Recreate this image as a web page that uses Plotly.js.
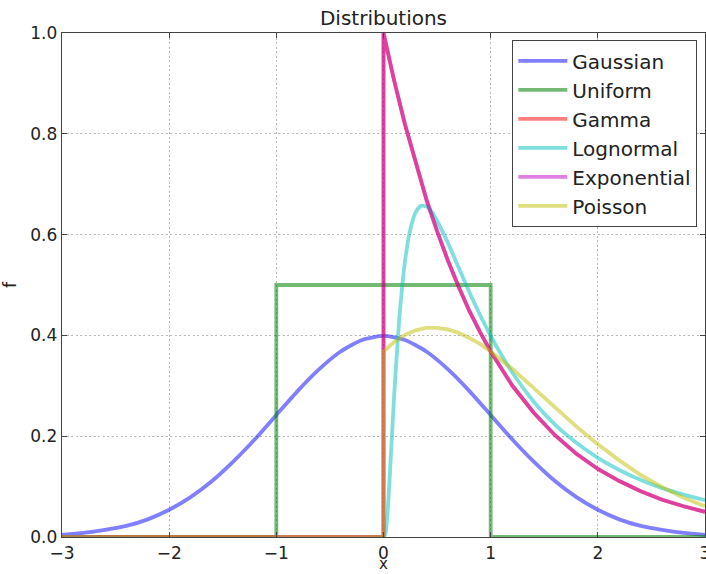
<!DOCTYPE html>
<html>
<head>
<meta charset="utf-8">
<script src="https://cdn.plot.ly/plotly-3.0.1.min.js"></script>
<style>html,body{margin:0;padding:0;background:#fff;}#chart{width:706px;height:574px;}</style>
</head>
<body>
<div id="chart"></div>
<script>
// Gaussian
const xGauss = [-3,-2.8,-2.6,-2.4,-2.2,-2,-1.8,-1.6,-1.4,-1.2,-1,-0.8,-0.6,-0.4,-0.2,0,0.2,0.4,0.6,0.8,1,1.2,1.4,1.6,1.8,2,2.2,2.4,2.6,2.8,3];
const yGauss = [0.004,0.008,0.014,0.022,0.035,0.054,0.079,0.111,0.150,0.194,0.242,0.290,0.333,0.368,0.391,0.399,0.391,0.368,0.333,0.290,0.242,0.194,0.150,0.111,0.079,0.054,0.035,0.022,0.014,0.008,0.004];
// Uniform
const xUniform = [-3,-1,-1,1,1,3];
const yUniform = [0,0,0.5,0.5,0,0];
// Gamma and Exponential
const xExpo = [-3,0,0,0.1,0.2,0.3,0.4,0.5,0.6,0.7,0.8,0.9,1.0,1.2,1.4,1.6,1.8,2.0,2.2,2.4,2.6,2.8,3.0];
const yGamma = [0,0,1,0.905,0.819,0.741,0.670,0.607,0.549,0.497,0.449,0.407,0.368,0.301,0.247,0.202,0.165,0.135,0.111,0.091,0.074,0.061,0.050];
const yExpo  = [0,0,1,0.905,0.819,0.741,0.670,0.607,0.549,0.497,0.449,0.407,0.368,0.301,0.247,0.202,0.165,0.135,0.111,0.091,0.074,0.061,0.050];
// Lognormal
const xLogn = [-3,0,0.02,0.03,0.04,0.05,0.06,0.07,0.08,0.1,0.12,0.15,0.2,0.25,0.3,0.35,0.4,0.45,0.5,0.6,0.7,0.8,0.9,1.0,1.2,1.4,1.6,1.8,2.0,2.2,2.4,2.6,2.8,3.0];
const yLogn = [0,0,0.009,0.028,0.055,0.090,0.127,0.166,0.205,0.282,0.349,0.440,0.546,0.610,0.644,0.657,0.656,0.645,0.627,0.584,0.535,0.486,0.441,0.399,0.327,0.269,0.223,0.187,0.157,0.133,0.113,0.097,0.084,0.073];
// Poisson
const xPoisson = [-3,0,0,0.1,0.2,0.3,0.4,0.5,0.6,0.7,0.8,0.9,1.0,1.2,1.4,1.6,1.8,2.0,2.2,2.4,2.6,2.8,3.0];
const yPoisson = [0,0,0.368,0.387,0.401,0.410,0.415,0.415,0.412,0.405,0.395,0.383,0.368,0.334,0.296,0.257,0.219,0.184,0.152,0.123,0.099,0.078,0.061];

const names = ['Gaussian','Uniform','Gamma','Lognormal','Exponential','Poisson'];
const colors = ['rgba(0,0,255,0.5)','rgba(0,128,0,0.55)','rgba(255,0,0,0.5)','rgba(0,191,191,0.5)','rgba(191,0,191,0.5)','rgba(191,191,0,0.5)'];
const xs = [xGauss,xUniform,xExpo,xLogn,xExpo,xPoisson];
const ys = [yGauss,yUniform,yGamma,yLogn,yExpo,yPoisson];

const traces = names.map((n,i)=>({
  type:'scatter', mode:'lines', name:n, x:xs[i], y:ys[i],
  legendgroup:'g'+i,
  line:{color:colors[i], width:3.8, shape: (i===0 || i===3) ? 'spline' : 'linear', smoothing:0.6},
  hoverinfo:'skip'
}));

const axisCommon = {
  showline:true, linecolor:'#444', linewidth:1.3, mirror:'ticks',
  ticks:'inside', ticklen:5, tickcolor:'#444',
  showgrid:true, gridcolor:'#b8b8b8', griddash:'2px,2.5px', gridwidth:1,
  zeroline:false, ticklabeloverflow:'allow',
  tickfont:{size:17, color:'#222', family:'DejaVu Sans'}
};

const layout = {
  width:706, height:574,
  margin:{l:62, r:1, t:33, b:37},
  paper_bgcolor:'#fff', plot_bgcolor:'#fff',
  font:{family:'DejaVu Sans', color:'#222'},
  title:{text:'Distributions', font:{size:20, color:'#222', family:'DejaVu Sans'}, x:0.5, xref:'paper', y:1-18/574, yref:'container', yanchor:'middle'},
  xaxis:Object.assign({}, axisCommon, {range:[-3,3], tickvals:[-3,-2,-1,0,1,2,3]}),
  yaxis:Object.assign({}, axisCommon, {range:[0,1], tickvals:[0,0.2,0.4,0.6,0.8,1.0], tickformat:'.1f', title:{text:'f', font:{size:17, color:'#222'}, standoff:14}}),
  annotations:[{text:'x', xref:'paper', yref:'paper', x:0.5, y:-0.0536, xanchor:'center', yanchor:'middle', showarrow:false, borderpad:0, font:{size:15, color:'#222', family:'DejaVu Sans'}}],
  showlegend:true,
  legend:{x:0.9876, xanchor:'right', y:0.986, yanchor:'top', bordercolor:'#444', borderwidth:1.3, bgcolor:'#fff',
    font:{size:20, color:'#222', family:'DejaVu Sans'}, traceorder:'grouped', tracegroupgap:0, itemwidth:49}
};

Plotly.newPlot('chart', traces, layout, {staticPlot:true, displayModeBar:false});
</script>
</body>
</html>
